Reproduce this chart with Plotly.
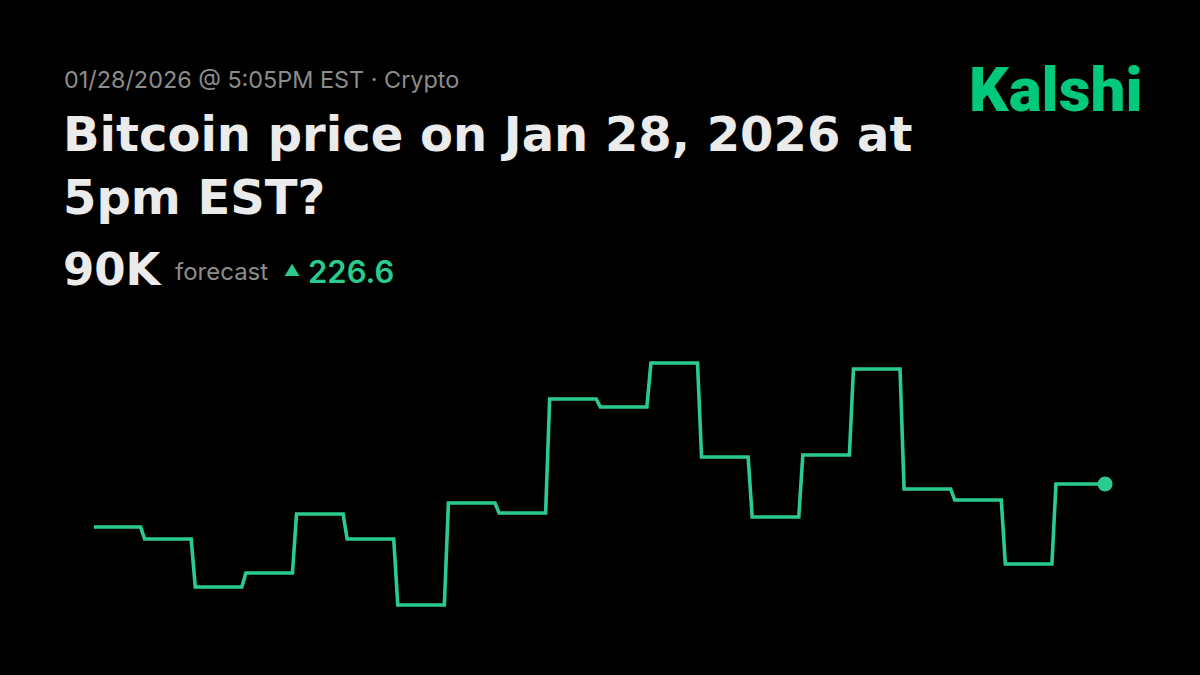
import plotly.graph_objects as go

# ---- data ----
periods = list(range(20))
prices = [89808, 89760, 89568, 89624, 89860, 89760, 89496, 89904, 89864, 90320,
          90288, 90464, 90088, 89848, 90096, 90440, 89960, 89916, 89660, 89980]
header_date = "01/28/2026 @ 5:05PM EST · Crypto"
title_lines = ["Bitcoin price on Jan 28, 2026 at", "5pm EST?"]
forecast_value = "90K"
forecast_label = "forecast"
change_value = "226.6"
brand = "Kalshi"

W, H = 1200, 675
LINE = "#2BCB8F"
BRAND = "#00C97B"

# step path with short slanted transitions
hold = 0.92
xs, ys = [], []
for i, (t, v) in enumerate(zip(periods, prices)):
    xs.append(t)
    ys.append(v)
    if i < len(periods) - 1:
        xs.append(t + hold)
        ys.append(v)
last_x = periods[-1] + 0.97
xs.append(last_x)
ys.append(prices[-1])

fig = go.Figure()
fig.add_trace(go.Scatter(x=xs, y=ys, mode="lines",
                         line=dict(color=LINE, width=3.6),
                         hoverinfo="skip", showlegend=False))
fig.add_trace(go.Scatter(x=[last_x], y=[prices[-1]], mode="markers",
                         marker=dict(color=LINE, size=15),
                         hoverinfo="skip", showlegend=False))

# axis scaling: x unit = 50.63 px, first point at px 94; y 4 $/px, last value at px 484
px_per_x = 50.63
x0px = 94
xr = [-x0px / px_per_x, (W - x0px) / px_per_x]
dpp = 4.0
yr = [prices[-1] - (H - 484) * dpp, prices[-1] + 484 * dpp]

fig.update_xaxes(range=xr, visible=False, fixedrange=True)
fig.update_yaxes(range=yr, visible=False, fixedrange=True)

def txt(s, xpx, ypx, size, color, weight=400, family="Inter"):
    fig.add_annotation(text=s, x=xpx / W, y=1 - ypx / H, xref="paper", yref="paper",
                       xanchor="left", yanchor="middle", showarrow=False,
                       font=dict(family=family, size=size, color=color, weight=weight))

txt(header_date, 62, 80, 23.4, "#8C8C8C")
txt(title_lines[0], 61, 134, 48, "#EBEBEB", 700, "DejaVu Sans")
txt(title_lines[1], 61, 197, 48, "#EBEBEB", 700, "DejaVu Sans")
txt(forecast_value, 61, 269, 45, "#EBEBEB", 700, "DejaVu Sans")
txt(forecast_label, 173, 271, 24, "#8C8C8C")
txt("▲", 282, 270, 16, LINE)
txt(change_value, 306, 271, 31, LINE, 600)
txt(brand, 967, 89, 62, BRAND, 900, "Roboto")

fig.update_layout(width=W, height=H, margin=dict(l=0, r=0, t=0, b=0),
                  paper_bgcolor="#000000", plot_bgcolor="#000000")

fig.write_html("out.html", config={"displayModeBar": False, "staticPlot": True},
               post_script="document.body.style.margin='0';")
